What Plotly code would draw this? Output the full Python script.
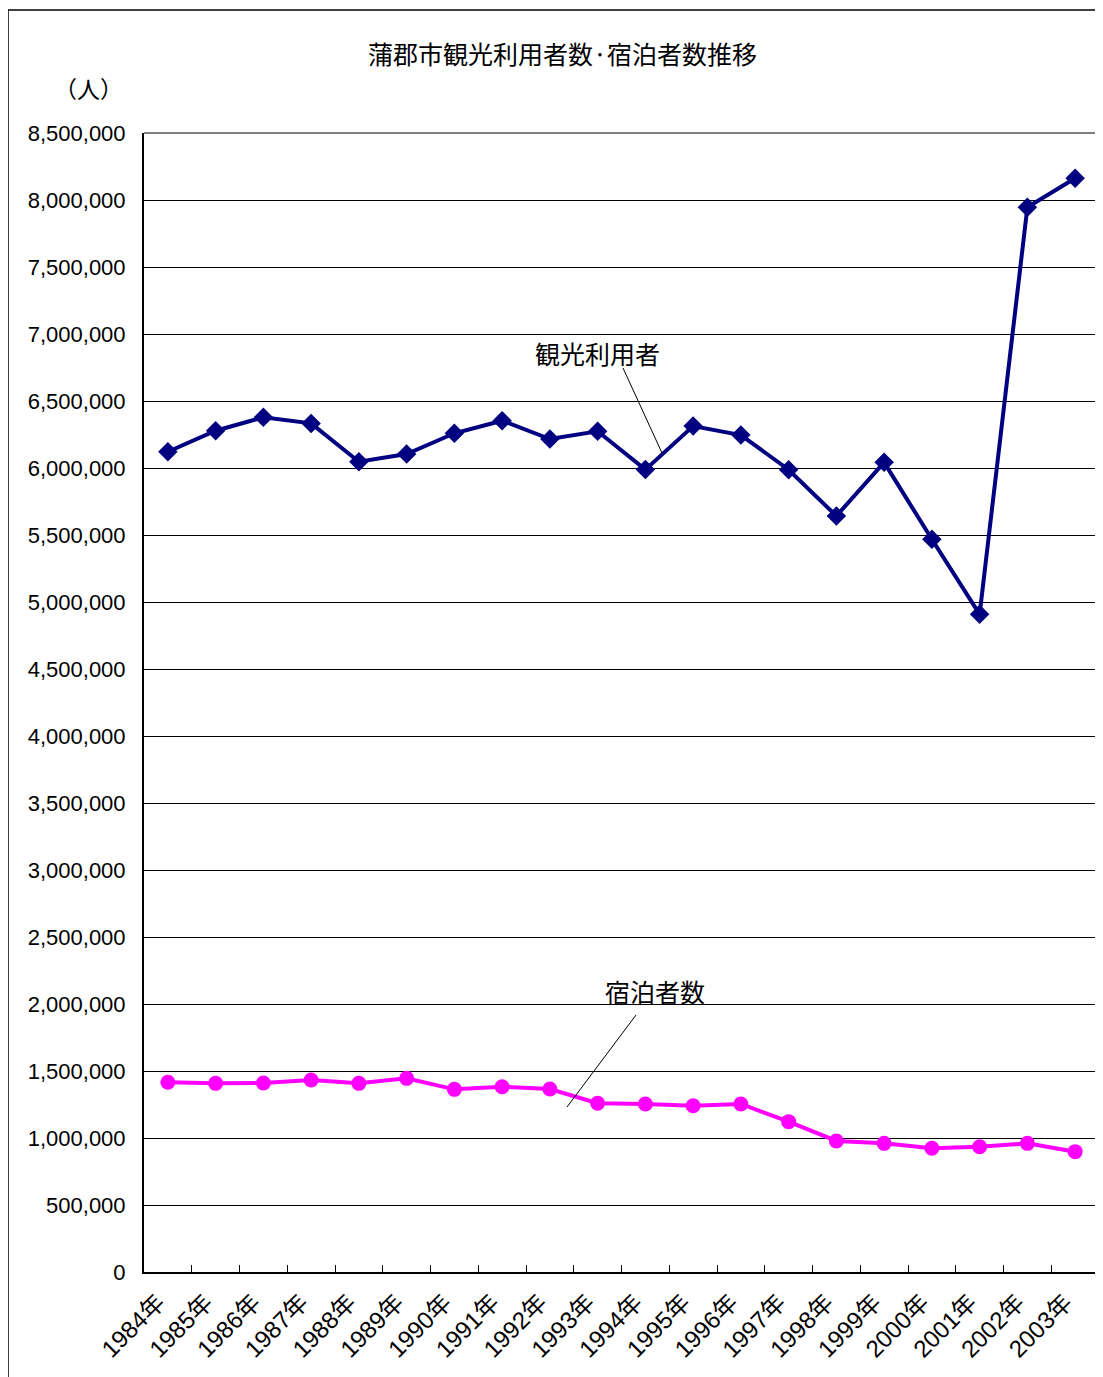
import plotly.graph_objects as go

years = ["1984年", "1985年", "1986年", "1987年", "1988年", "1989年", "1990年",
         "1991年", "1992年", "1993年", "1994年", "1995年", "1996年", "1997年",
         "1998年", "1999年", "2000年", "2001年", "2002年", "2003年"]
tourists = [6121000, 6278000, 6378000, 6333000, 6047000, 6104000, 6259000,
            6353000, 6216000, 6274000, 5988000, 6313000, 6246000, 5987000,
            5642000, 6042000, 5468000, 4908000, 7946000, 8162000]
overnight = [1416000, 1408000, 1410000, 1433000, 1408000, 1445000, 1363000,
             1383000, 1366000, 1259000, 1254000, 1241000, 1254000, 1122000,
             978000, 960000, 923000, 935000, 960000, 898000]
y_ticks = list(range(0, 8500001, 500000))
y_tick_text = [f"{v:,}" for v in y_ticks]

OFF = 8  # page body margin
W, H = 1103 - OFF, 1377 - OFF
L, R, T, B = 144, 1099, 133, 1272  # plot area in page pixels
FONT = "Liberation Sans, Arial, Noto Sans CJK JP"


def px(x):
    return (x - L) / (R - L)


def py(y):
    return (B - y) / (B - T)


fig = go.Figure()
fig.add_trace(go.Scatter(
    x=years, y=tourists, mode="lines+markers", name="観光利用者",
    line=dict(color="#000080", width=4),
    marker=dict(symbol="diamond", size=15, color="#000080"),
))
fig.add_trace(go.Scatter(
    x=years, y=overnight, mode="lines+markers", name="宿泊者数",
    line=dict(color="#FF00FF", width=4),
    marker=dict(symbol="circle", size=15, color="#FF00FF"),
))

fig.update_layout(
    width=W, height=H,
    margin=dict(l=L - OFF, r=1103 - R, t=T - OFF, b=1377 - B),
    paper_bgcolor="white", plot_bgcolor="white",
    showlegend=False,
    font=dict(family=FONT, size=22, color="black"),
)
fig.update_xaxes(
    type="category", tickson="boundaries", ticks="inside", ticklen=7,
    tickcolor="black", showline=True, linecolor="black", linewidth=2,
    showgrid=False, tickangle=-45, tickfont=dict(size=24, family=FONT),
    ticklabelshift=-10, ticklabelstandoff=5,
    range=[-0.5, len(years) - 0.5], mirror=False,
)
fig.update_yaxes(
    range=[0, 8500000], tickvals=y_ticks, ticktext=y_tick_text,
    ticks="inside", ticklen=7, tickcolor="black",
    showline=True, linecolor="black", linewidth=2,
    showgrid=True, gridcolor="black", gridwidth=1,
    tickfont=dict(size=22, family=FONT), ticklabelstandoff=12,
    zeroline=False,
)

shapes = [
    dict(type="line", xref="paper", yref="paper", x0=0, x1=1, y0=1, y1=1,
         line=dict(color="#808080", width=2)),
    dict(type="line", xref="paper", yref="paper", x0=1, x1=1, y0=0, y1=1,
         line=dict(color="#808080", width=2)),
    dict(type="rect", xref="paper", yref="paper",
         x0=px(8), x1=px(1110), y0=py(1385), y1=py(10),
         line=dict(color="black", width=1.5), layer="below"),
    dict(type="line", xref="paper", yref="paper",
         x0=px(623), y0=py(368), x1=px(662), y1=py(453),
         line=dict(color="black", width=1)),
    dict(type="line", xref="paper", yref="paper",
         x0=px(636), y0=py(1015), x1=px(567), y1=py(1107),
         line=dict(color="black", width=1)),
]
fig.update_layout(shapes=shapes)

annotations = [
    dict(text="蒲郡市観光利用者数·宿泊者数推移", x=px(562), y=py(53),
         font=dict(size=25, family="Noto Sans CJK JP")),
    dict(text="（人）", x=px(88), y=py(88),
         font=dict(size=23, family="Noto Sans CJK JP")),
    dict(text="観光利用者", x=px(597), y=py(353),
         font=dict(size=25, family="Noto Sans CJK JP")),
    dict(text="宿泊者数", x=px(655), y=py(991),
         font=dict(size=25, family="Noto Sans CJK JP")),
]
for a in annotations:
    a.update(xref="paper", yref="paper", showarrow=False,
             xanchor="center", yanchor="middle")
fig.update_layout(annotations=annotations)

fig.write_html("out.html")
